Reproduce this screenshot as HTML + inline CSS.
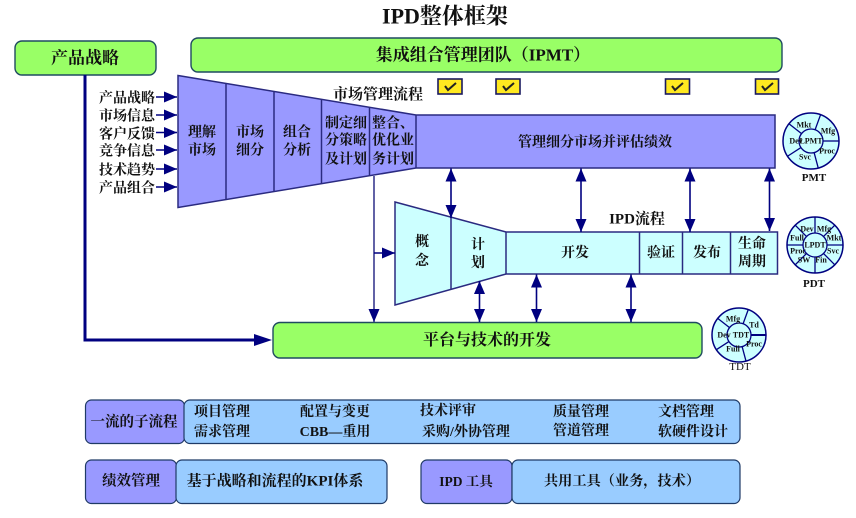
<!DOCTYPE html>
<html><head><meta charset="utf-8"><style>
html,body{margin:0;padding:0;background:#fff;width:856px;height:518px;overflow:hidden}
svg{display:block}
text{font-family:"Liberation Serif","Noto Serif CJK SC",serif;fill:#111;text-anchor:middle;dominant-baseline:central}
.b{font-weight:bold}
.p{stroke:#2a2a80;stroke-width:1.5}
.l{stroke:#000080;stroke-width:1.6;fill:none}
.s{stroke:#000080;stroke-width:1.3}
.c{font-size:8px;font-weight:bold}
.ar{fill:#000080;stroke:none}
</style></head><body>
<svg width="856" height="518" viewBox="0 0 856 518" xmlns="http://www.w3.org/2000/svg">
<defs>
<marker id="a" markerUnits="userSpaceOnUse" markerWidth="14" markerHeight="12" refX="13" refY="6" orient="auto-start-reverse"><path d="M0 0.500 L13 6 L0 11.500 Z" fill="#000080"/></marker>
</defs>

<text x="445" y="16" font-size="22" class="b">IPD整体框架</text>

<rect x="15" y="41" width="141" height="34" rx="7" fill="#99ff66" stroke="#1f4a60" stroke-width="1.4"/>
<text x="85" y="58" font-size="17" class="b">产品战略</text>
<rect x="191" y="38" width="591" height="34" rx="7" fill="#99ff66" stroke="#1f4a60" stroke-width="1.4"/>
<text x="483" y="55" font-size="17" class="b">集成组合管理团队（IPMT）</text>

<!-- check boxes -->
<g fill="#ffe920" stroke="#1a1a60" stroke-width="1.6">
<rect x="438" y="79" width="24" height="15"/><rect x="496" y="79" width="24" height="15"/><rect x="665.500" y="79" width="24" height="15"/><rect x="755.500" y="79" width="23" height="15"/>
</g>
<g fill="none" stroke="#222" stroke-width="2">
<path d="M445 86 l3 4 l8 -7"/><path d="M503 86 l3 4 l8 -7"/><path d="M672 86 l3 4 l8 -7"/><path d="M762 86 l3 4 l8 -7"/>
</g>

<!-- market funnel -->
<path class="p" fill="#9999ff" d="M178 75.500 L416 115 H775 V168 H416 L178 207.500 Z"/>
<g class="p"><line x1="226" y1="83.500" x2="226" y2="199.500"/><line x1="274" y1="91.500" x2="274" y2="191.500"/><line x1="321.500" y1="99" x2="321.500" y2="183.500"/><line x1="369.500" y1="107" x2="369.500" y2="175.500"/><line x1="416" y1="115" x2="416" y2="168"/></g>
<g font-size="14" class="b" transform="translate(0 2)">
<text x="202" y="131">理解</text><text x="202" y="149">市场</text>
<text x="250" y="131">市场</text><text x="250" y="149">细分</text>
<text x="297" y="131">组合</text><text x="297" y="149">分析</text>
<text x="346" y="122">制定细</text><text x="346" y="139">分策略</text><text x="346" y="158">及计划</text>
<text x="393" y="122">整合、</text><text x="393" y="139">优化业</text><text x="393" y="158">务计划</text>
<text x="378" y="93" font-size="15">市场管理流程</text>
<text x="595" y="141">管理细分市场并评估绩效</text>
</g>

<!-- inputs -->
<g font-size="14" class="b" transform="translate(0 2)">
<text x="127" y="97">产品战略</text><text x="127" y="115">市场信息</text><text x="127" y="133">客户反馈</text><text x="127" y="150">竞争信息</text><text x="127" y="169">技术趋势</text><text x="127" y="187">产品组合</text>
</g>
<g class="l">
<line x1="156" y1="97" x2="177" y2="97" marker-end="url(#a)"/><line x1="156" y1="115" x2="177" y2="115" marker-end="url(#a)"/><line x1="156" y1="132.500" x2="177" y2="132.500" marker-end="url(#a)"/><line x1="156" y1="150" x2="177" y2="150" marker-end="url(#a)"/><line x1="156" y1="169" x2="177" y2="169" marker-end="url(#a)"/><line x1="156" y1="187" x2="177" y2="187" marker-end="url(#a)"/>
</g>

<!-- IPD funnel -->
<path class="p" fill="#ccffff" d="M395 202 L506 232 H777.500 V274 H506 L395 305 Z"/>
<g class="p"><line x1="451" y1="217" x2="451" y2="289"/><line x1="506" y1="232" x2="506" y2="274"/><line x1="639.500" y1="232" x2="639.500" y2="274"/><line x1="682.500" y1="232" x2="682.500" y2="274"/><line x1="730.500" y1="232" x2="730.500" y2="274"/></g>
<g font-size="14" class="b" transform="translate(0 1.500)">
<text x="422" y="241">概</text><text x="422" y="260">念</text>
<text x="478" y="244">计</text><text x="478" y="262">划</text>
<text x="575" y="252">开发</text>
<text x="661" y="252">验证</text><text x="707" y="252">发布</text>
<text x="752" y="243">生命</text><text x="752" y="261">周期</text>
<text x="637" y="218" font-size="15">IPD流程</text>
</g>

<!-- platform -->
<rect x="273" y="322.500" width="429" height="35.500" rx="7" fill="#99ff66" stroke="#1f4a60" stroke-width="1.4"/>
<text x="487" y="340.500" font-size="16" class="b">平台与技术的开发</text>

<!-- connectors -->
<path d="M85 75 V340 H258" fill="none" stroke="#000080" stroke-width="3"/>
<path d="M254 334 L272 340 L254 346 Z" class="ar"/>
<line x1="374" y1="176" x2="374" y2="322" class="l" style="stroke:#3a3a90" marker-end="url(#a)"/>
<line x1="374" y1="253" x2="395" y2="253" class="l" marker-end="url(#a)"/>
<g class="l">
<line x1="451" y1="168.500" x2="451" y2="218" marker-start="url(#a)" marker-end="url(#a)"/>
<line x1="581" y1="168.500" x2="581" y2="232" marker-start="url(#a)" marker-end="url(#a)"/>
<line x1="690" y1="168.500" x2="690" y2="232" marker-start="url(#a)" marker-end="url(#a)"/>
<line x1="769.500" y1="168.500" x2="769.500" y2="231" marker-start="url(#a)" marker-end="url(#a)"/>
<line x1="479.500" y1="281" x2="479.500" y2="322" marker-start="url(#a)" marker-end="url(#a)"/>
<line x1="536.500" y1="274.500" x2="536.500" y2="322" marker-start="url(#a)" marker-end="url(#a)"/>
<line x1="631" y1="274.500" x2="631" y2="322" marker-start="url(#a)" marker-end="url(#a)"/>
</g>

<!-- PMT -->
<circle cx="811" cy="141" r="28" fill="#ccffff" stroke="#000080" stroke-width="1.5"/>
<g class="s">
<line x1="823" y1="141" x2="839" y2="141" transform="rotate(-70 811 141)"/>
<line x1="823" y1="141" x2="839" y2="141"/>
<line x1="823" y1="141" x2="839" y2="141" transform="rotate(75 811 141)"/>
<line x1="823" y1="141" x2="839" y2="141" transform="rotate(147 811 141)"/>
<line x1="823" y1="141" x2="839" y2="141" transform="rotate(218 811 141)"/>
</g>
<circle cx="811" cy="141" r="12" fill="#ccffff" stroke="#000080" stroke-width="1.3"/>
<g class="c"><text x="811" y="141">LPMT</text><text x="796" y="141">Dev</text><text x="804" y="125">Mkt</text><text x="828" y="131">Mfg</text><text x="827" y="151">Proc</text><text x="805" y="157">Svc</text></g>
<text x="814" y="178" font-size="11" class="b">PMT</text>

<!-- PDT -->
<circle cx="815" cy="245" r="28" fill="#ccffff" stroke="#000080" stroke-width="1.5"/>
<g class="s">
<line x1="787" y1="245" x2="843" y2="245"/><line x1="815" y1="217" x2="815" y2="273"/>
<line x1="795.200" y1="225.200" x2="834.800" y2="264.800"/><line x1="834.800" y1="225.200" x2="795.200" y2="264.800"/>
</g>
<circle cx="815" cy="245" r="12" fill="#ccffff" stroke="#000080" stroke-width="1.3"/>
<g class="c"><text x="815" y="245">LPDT</text><text x="807" y="229">Dev</text><text x="824" y="229">Mfg</text><text x="834" y="238">Mkt</text><text x="833" y="251">Svc</text><text x="821" y="260">Fin</text><text x="804" y="260">SW</text><text x="798" y="251">Proc</text><text x="797" y="238">Full</text></g>
<text x="814" y="284" font-size="11" class="b">PDT</text>

<!-- TDT -->
<circle cx="739" cy="335" r="27" fill="#ccffff" stroke="#000080" stroke-width="1.5"/>
<g class="s">
<line x1="751" y1="335" x2="766" y2="335" transform="rotate(-70 739 335)"/>
<line x1="751" y1="335" x2="766" y2="335" style="stroke-width:2"/>
<line x1="751" y1="335" x2="766" y2="335" transform="rotate(75 739 335)"/>
<line x1="751" y1="335" x2="766" y2="335" transform="rotate(147 739 335)"/>
<line x1="751" y1="335" x2="766" y2="335" transform="rotate(218 739 335)"/>
</g>
<circle cx="739" cy="335" r="12" fill="#ccffff" stroke="#000080" stroke-width="1.3"/>
<g class="c"><text x="741" y="335">TDT</text><text x="724" y="335">Dev</text><text x="733" y="319">Mfg</text><text x="754" y="325">Td</text><text x="754" y="344">Proc</text><text x="733" y="349">Full</text></g>
<text x="740" y="367" font-size="11">TDT</text>

<!-- bottom boxes -->
<g stroke="#1f3a66" stroke-width="1.2">
<rect x="85.500" y="400" width="99" height="43.500" rx="6" fill="#9999ff"/>
<rect x="184" y="400" width="556" height="43.500" rx="6" fill="#99ccff"/>
<rect x="85.500" y="460" width="91" height="43.500" rx="6" fill="#9999ff"/>
<rect x="176" y="460" width="211" height="43.500" rx="6" fill="#99ccff"/>
<rect x="421" y="460" width="91" height="43.500" rx="6" fill="#9999ff"/>
<rect x="512" y="460" width="228" height="43.500" rx="6" fill="#99ccff"/>
</g>
<g font-size="14" class="b" transform="translate(0 1.500)">
<text x="134" y="421" font-size="14.500">一流的子流程</text>
<text x="222" y="411">项目管理</text><text x="222" y="431">需求管理</text>
<text x="335" y="411">配置与变更</text><text x="335" y="431">CBB—重用</text>
<text x="448" y="410">技术评审</text><text x="466" y="431">采购/外协管理</text>
<text x="581" y="411">质量管理</text><text x="581" y="430">管道管理</text>
<text x="686" y="411">文档管理</text><text x="693" y="431">软硬件设计</text>
<text x="131" y="480" font-size="14.500">绩效管理</text><text x="275" y="480" font-size="15">基于战略和流程的KPI体系</text>
<text x="466" y="480" font-size="13.500">IPD 工具</text><text x="622" y="480" font-size="14.200">共用工具（业务，技术）</text>
</g>
</svg>
</body></html>
